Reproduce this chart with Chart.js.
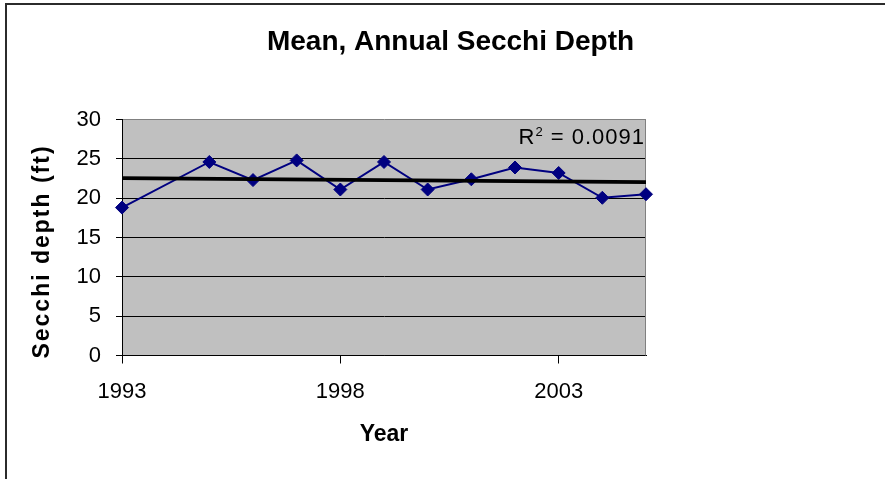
<!DOCTYPE html>
<html><head><meta charset="utf-8">
<script src="https://cdn.jsdelivr.net/npm/chart.js@4.4.1/dist/chart.umd.min.js"></script>
<style>
html,body{margin:0;padding:0;background:#fff;overflow:hidden;}
#wrap{position:relative;width:885px;height:479px;overflow:hidden;background:#fff;}
#c{position:absolute;left:0;top:0;}
#frame{position:absolute;left:5px;top:3px;width:900px;height:500px;border-top:2px solid #2b2b2b;border-left:2px solid #2b2b2b;pointer-events:none;}
</style></head><body>
<div id="wrap"><canvas id="c" width="885" height="479"></canvas><div id="frame"></div></div>
<script>
// ---- data ----
const years = [1993, 1995, 1996, 1997, 1998, 1999, 2000, 2001, 2002, 2003, 2004, 2005];
const secchiDepth = [18.8, 24.6, 22.3, 24.8, 21.1, 24.6, 21.1, 22.4, 23.9, 23.2, 20.05, 20.5];
const xTickValues = [1993, 1998, 2003];
const yTickValues = [0, 5, 10, 15, 20, 25, 30];
const chartTitle = 'Mean, Annual Secchi Depth';
const xTitle = 'Year';
const yTitle = 'Secchi depth (ft)';
const r2Text = '0.0091';

const FONT = '"Liberation Sans", Arial, sans-serif';
Chart.defaults.font.family = FONT;

// least-squares linear trend of the series
const n = years.length;
const mx = years.reduce((a, b) => a + b, 0) / n;
const my = secchiDepth.reduce((a, b) => a + b, 0) / n;
let sxy = 0, sxx = 0;
for (let i = 0; i < n; i++) { sxy += (years[i] - mx) * (secchiDepth[i] - my); sxx += (years[i] - mx) ** 2; }
const slope = sxy / sxx, icpt = my - slope * mx;
const xMin = years[0], xMax = years[n - 1];
const trendPts = [{x: xMin, y: icpt + slope * xMin}, {x: xMax, y: icpt + slope * xMax}];
const seriesPts = years.map((y, i) => ({x: y, y: secchiDepth[i]}));

const plotBg = {
  id: 'plotBg',
  beforeDraw(chart) {
    const {ctx, chartArea: a} = chart;
    ctx.save();
    ctx.fillStyle = '#C0C0C0';
    ctx.fillRect(a.left, a.top, a.right - a.left, a.bottom - a.top);
    ctx.restore();
  },
  beforeDatasetsDraw(chart) {
    const {ctx, chartArea: a} = chart;
    ctx.save();
    ctx.strokeStyle = '#808080';
    ctx.lineWidth = 1;
    ctx.beginPath();
    const xr = Math.round(a.right) - 0.5;
    ctx.moveTo(xr, a.top);
    ctx.lineTo(xr, a.bottom);
    ctx.stroke();
    ctx.restore();
  }
};

const r2Label = {
  id: 'r2Label',
  afterDatasetsDraw(chart) {
    const {ctx, chartArea: a} = chart;
    ctx.save();
    ctx.fillStyle = '#000';
    ctx.textBaseline = 'alphabetic';
    ctx.textAlign = 'left';
    if ('letterSpacing' in ctx) ctx.letterSpacing = '1px';
    const rest = ' = ' + r2Text;
    ctx.font = '22px ' + FONT;
    const wRest = ctx.measureText(rest).width;
    const wR = ctx.measureText('R').width;
    ctx.font = '13px ' + FONT;
    const wSup = ctx.measureText('2').width;
    let x = a.right - 1 - wRest - wSup - wR;
    const base = a.top + 24;
    ctx.font = '22px ' + FONT;
    ctx.fillText('R', x, base); x += wR;
    ctx.font = '13px ' + FONT;
    ctx.fillText('2', x, base - 8); x += wSup;
    ctx.font = '22px ' + FONT;
    ctx.fillText(rest, x, base);
    ctx.restore();
  }
};

const yTitleTweak = {
  id: 'yTitleTweak',
  afterLayout(chart) {
    const s = chart.scales.y;
    if (!s || s._tweaked) return;
    const orig = Object.getPrototypeOf(s).drawTitle;
    s.drawTitle = function () {
      const ctx = this.ctx;
      ctx.save();
      ctx.translate(0, 14);
      if ('letterSpacing' in ctx) ctx.letterSpacing = '2px';
      orig.call(this);
      ctx.restore();
    };
    s._tweaked = true;
  }
};

new Chart(document.getElementById('c'), {
  type: 'line',
  data: {
    datasets: [
      {
        label: 'Trend',
        data: trendPts,
        borderColor: '#000',
        borderWidth: 3.75,
        pointRadius: 0,
        fill: false,
        order: 0,
        yAxisID: 'y',
        xAxisID: 'x'
      },
      {
        label: 'Mean annual Secchi depth',
        data: seriesPts,
        borderColor: '#000080',
        backgroundColor: '#000080',
        borderWidth: 2,
        pointStyle: 'rectRot',
        pointRadius: 6.5,
        pointBorderWidth: 1,
        pointBackgroundColor: '#000080',
        pointBorderColor: '#000080',
        tension: 0,
        fill: false,
        clip: false,
        order: 1,
        yAxisID: 'y',
        xAxisID: 'x'
      }
    ]
  },
  options: {
    responsive: false,
    animation: false,
    devicePixelRatio: 1,
    layout: {padding: {left: 16, right: 0, top: 0, bottom: 0}},
    plugins: {
      legend: {display: false},
      tooltip: {enabled: false},
      title: {
        display: true,
        text: chartTitle,
        color: '#000',
        font: {family: FONT, size: 28, weight: 'bold', lineHeight: 1.2},
        padding: {top: 25.6, bottom: 60.3}
      }
    },
    scales: {
      x: {
        type: 'linear',
        position: 'bottom',
        min: xMin,
        max: xMax,
        afterBuildTicks: s => { s.ticks = xTickValues.map(v => ({value: v})); },
        afterFit: s => { s.height = 123.5; },
        grid: {display: true, drawOnChartArea: false, drawTicks: true, tickLength: 8, color: '#000', lineWidth: 1},
        border: {display: true, color: '#000', width: 1},
        ticks: {color: '#000', font: {family: FONT, size: 22}, padding: 15, maxRotation: 0, autoSkip: false, callback: v => String(v)},
        title: {display: true, text: xTitle, color: '#000', font: {family: FONT, size: 23, weight: 'bold', lineHeight: 1.2}, padding: {top: 0, bottom: 30.2}}
      },
      y: {
        type: 'linear',
        position: 'left',
        min: 0,
        max: 30,
        afterBuildTicks: s => { s.ticks = yTickValues.map(v => ({value: v})); },
        afterFit: s => { s.width = 106; },
        grid: {
          display: true,
          drawOnChartArea: true,
          drawTicks: true,
          tickLength: 6,
          lineWidth: 1,
          color: c => (c.tick && c.tick.value === 30 ? '#808080' : '#000'),
          tickColor: '#000'
        },
        border: {display: true, color: '#000', width: 1},
        ticks: {color: '#000', font: {family: FONT, size: 22}, padding: 15, callback: v => String(v)},
        title: {display: true, text: yTitle, color: '#000', font: {family: FONT, size: 23, weight: 'bold', lineHeight: 1.2}, padding: {top: 13.2, bottom: 0}}
      },
      y2: {
        type: 'linear',
        position: 'right',
        display: true,
        afterFit: s => { s.width = 239; },
        grid: {display: false},
        border: {display: false},
        ticks: {display: false}
      }
    }
  },
  plugins: [plotBg, r2Label, yTitleTweak]
});
</script>
</body></html>
